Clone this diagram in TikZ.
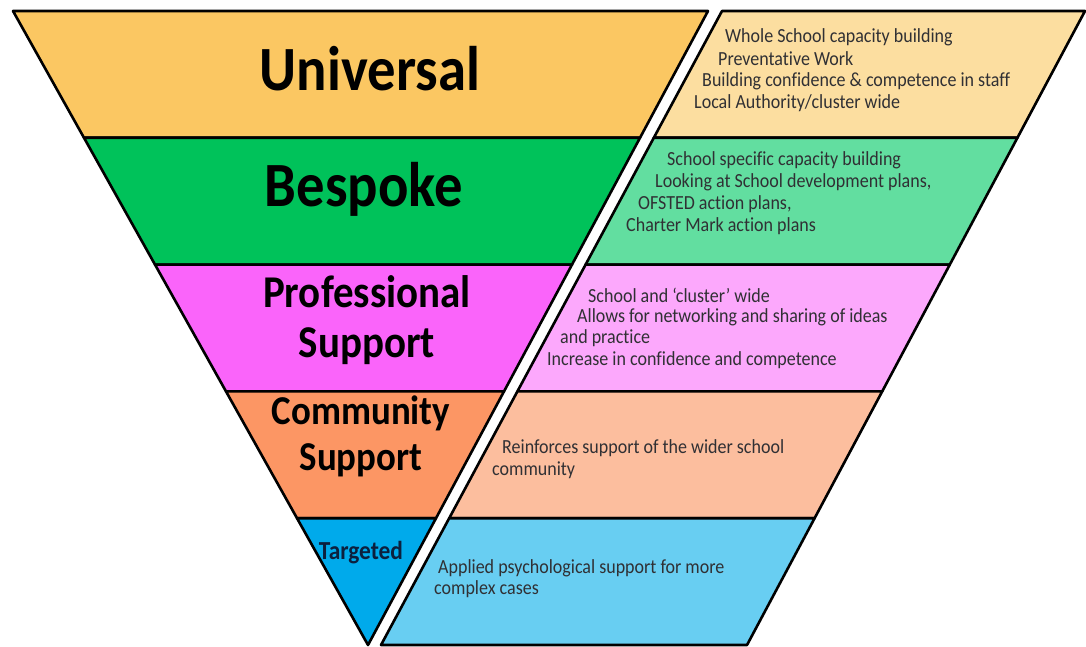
\documentclass[tikz,border=0pt]{standalone}
\usepackage{fontspec}
\setmainfont{Carlito}[FakeStretch=0.9, Ligatures=NoCommon]
\usepackage{tikz}
\usetikzlibrary{calc}

\definecolor{uniL}{RGB}{251,199,98}
\definecolor{uniR}{RGB}{252,222,160}
\definecolor{besL}{RGB}{0,194,90}
\definecolor{besR}{RGB}{98,222,160}
\definecolor{proL}{RGB}{250,100,250}
\definecolor{proR}{RGB}{252,168,252}
\definecolor{comL}{RGB}{252,150,100}
\definecolor{comR}{RGB}{252,190,158}
\definecolor{tarL}{RGB}{0,170,235}
\definecolor{tarR}{RGB}{104,206,242}
\definecolor{txt}{RGB}{48,48,52}
\definecolor{navy}{RGB}{12,32,62}

\begin{document}
\begin{tikzpicture}[x=1pt, y=-1pt,
    band/.style = {draw, line width=2.6pt, line join=round},
    big/.style = {font=\bfseries\fontsize{63}{66}\selectfont},
    mid/.style = {font=\bfseries\fontsize{45.5}{50}\selectfont, align=center},
    note/.style = {anchor=west, inner sep=0pt, text=txt, font=\fontsize{20}{22}\selectfont}]
    \useasboundingbox (0,0) rectangle (1086,647);
    \coordinate (tl) at (13,11);
    \coordinate (tr) at (708,11);
    \coordinate (apex) at (368,645);
    \coordinate (pl) at (722,11);
    \coordinate (pr) at (1085,11);
    \coordinate (ql) at (381,645);
    \coordinate (qr) at (747,645);
    \foreach \a/\b/\cl/\cr in {0/.2/uniL/uniR, .2/.4/besL/besR, .4/.6/proL/proR, .6/.8/comL/comR, .8/1/tarL/tarR}{
      \draw[band, fill=\cl] ($(tl)!\a!(apex)$) -- ($(tr)!\a!(apex)$) -- ($(tr)!\b!(apex)$) -- ($(tl)!\b!(apex)$) -- cycle;
      \draw[band, fill=\cr] ($(pl)!\a!(ql)$) -- ($(pr)!\a!(qr)$) -- ($(pr)!\b!(qr)$) -- ($(pl)!\b!(ql)$) -- cycle;
    }
    \node[big](uni) at (370,69) {Universal};
    \node[big](bes) at (364,189) {Bespoke};
    \node[mid](pro) at (367,320) {Professional\\Support};
    \node[mid, font=\bfseries\fontsize{41}{46}\selectfont](com) at (361,436) {Community\\Support};
    \node[font=\bfseries\fontsize{26}{28}\selectfont, text=navy](tar) at (361,553) {Targeted};
    \foreach \n/\x/\y/\t in {
      u1/725/37/{Whole School capacity building},
      u2/718/59/{Preventative Work},
      u3/702/81/{Building confidence \& competence in staff},
      u4/694/103/{Local Authority/cluster wide},
      b1/667/160/{School specific capacity building},
      b2/655/182/{Looking at School development plans,},
      b3/638/204/{OFSTED action plans,},
      b4/626/226/{Charter Mark action plans},
      p1/588/295/{School and ‘cluster’ wide},
      p2/577/317/{Allows for networking and sharing of ideas},
      p3/560/338/{and practice},
      p4/547/360/{Increase in confidence and competence},
      c1/502/448/{Reinforces support of the wider school},
      c2/492/470/{community},
      t1/438/568/{Applied psychological support for more},
      t2/434/589/{complex cases}}{
      \node[note](\n) at (\x,\y) {\t};
    }
  \end{tikzpicture}
\end{document}
